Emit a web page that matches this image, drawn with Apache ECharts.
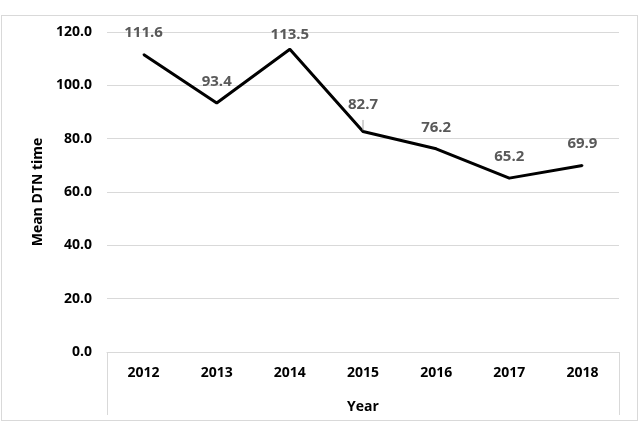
<!DOCTYPE html>
<html>
<head>
<meta charset="utf-8">
<script src="https://cdn.jsdelivr.net/npm/echarts@6/dist/echarts.min.js"></script>
<style>
  html, body { margin: 0; padding: 0; background: #fff; }
  #wrap { position: relative; width: 640px; height: 438px; }
  #frame {
    position: absolute; left: 1px; top: 15px; width: 637px; height: 406px;
    border: 1px solid #d9d9d9; box-sizing: border-box; pointer-events: none;
  }
  #chart { width: 640px; height: 438px; }
</style>
</head>
<body>
<div id="wrap">
  <div id="chart"></div>
  <div id="frame"></div>
</div>
<script>
// chart data
const years = ['2012', '2013', '2014', '2015', '2016', '2017', '2018'];
const meanDtn = [111.6, 93.4, 113.5, 82.7, 76.2, 65.2, 69.9];
const yTicks = [0, 20, 40, 60, 80, 100, 120];

const font = '"Open Sans", "Liberation Sans", sans-serif';

// label distance tweaks (as in the original layout)
const labelDist = { '2014': 6, '2015': 18 };

let seriesData = meanDtn.map((v, i) => {
  let item = { value: v };
  let d = labelDist[years[i]];
  if (d) {
    item.label = { distance: d };
  }
  if (years[i] === '2015') {
    item.labelLine = { show: true, lineStyle: { color: '#a6a6a6', width: 1 } };
  }
  return item;
});

let chart = echarts.init(document.getElementById('chart'));
let option = {
  animation: false,
  grid: {
    left: 107,
    right: 21,
    top: 32,
    bottom: 86
  },
  xAxis: {
    type: 'category',
    data: years,
    boundaryGap: true,
    name: 'Year',
    nameLocation: 'middle',
    nameGap: 48,
    nameTextStyle: { fontFamily: font, fontWeight: 'bold', fontSize: 14, color: '#000' },
    axisLine: { show: true, lineStyle: { color: '#d9d9d9', width: 1 } },
    axisTick: {
      show: true,
      length: 63,
      interval: function (i) { return i === 0; },
      lineStyle: { color: '#d9d9d9', width: 1 }
    },
    axisLabel: {
      margin: 14,
      fontFamily: font,
      fontWeight: 'bold',
      fontSize: 14,
      color: '#000'
    }
  },
  yAxis: {
    type: 'value',
    min: yTicks[0],
    max: yTicks[yTicks.length - 1],
    interval: 20,
    name: 'Mean DTN time',
    nameLocation: 'middle',
    nameGap: 60,
    nameTextStyle: { fontFamily: font, fontWeight: 'bold', fontSize: 14, color: '#000' },
    axisLine: { show: false },
    axisTick: { show: false },
    axisLabel: {
      margin: 15,
      fontFamily: font,
      fontWeight: 'bold',
      fontSize: 14,
      color: '#000',
      formatter: function (v) { return v.toFixed(1); }
    },
    splitLine: { lineStyle: { color: '#d9d9d9', width: 1 } }
  },
  series: [
    {
      type: 'line',
      data: seriesData,
      symbol: 'circle',
      symbolSize: 2,
      itemStyle: { color: '#000' },
      lineStyle: { color: '#000', width: 3 },
      label: {
        show: true,
        position: 'top',
        distance: 13,
        fontFamily: font,
        fontWeight: 'bold',
        fontSize: 15,
        color: '#595959',
        formatter: function (p) { return p.value.toFixed(1); }
      }
    }
  ]
};
chart.setOption(option);
</script>
</body>
</html>
